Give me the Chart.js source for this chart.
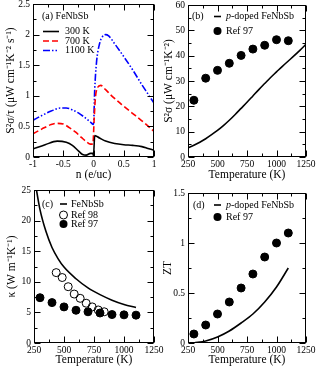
<!DOCTYPE html>
<html>
<head>
<meta charset="utf-8">
<script src="https://cdn.jsdelivr.net/npm/chart.js@4.4.0/dist/chart.umd.min.js"></script>
<style>
  body { margin: 0; background: #fff; }
  #wrap { position: relative; width: 317px; height: 369px; }
  #wrap canvas { position: absolute; left: 0; top: 0; }
</style>
</head>
<body>
<div id="wrap">
  <canvas id="chartA" width="317" height="369"></canvas>
  <canvas id="chartB" width="317" height="369"></canvas>
  <canvas id="chartC" width="317" height="369"></canvas>
  <canvas id="chartD" width="317" height="369"></canvas>
</div>
<script>
// ===========================
// DATA
// ===========================

// (a) S^2 sigma / tau vs n (e/uc)
const n300 = [-1, -0.8, -0.6, -0.45, -0.35, -0.25, -0.18, -0.12, -0.05, -0.01, 0, 0.02, 0.1, 0.2, 0.35, 0.5, 0.65, 0.8, 0.9, 1];
const pf300 = [0.13, 0.2, 0.26, 0.24, 0.19, 0.1, 0.04, 0.03, 0.06, 0.06, 0.02, 0.35, 0.31, 0.26, 0.22, 0.2, 0.19, 0.17, 0.14, 0.11];
const n700 = [-1, -0.85, -0.7, -0.6, -0.5, -0.4, -0.3, -0.2, -0.12, -0.05, -0.01, 0.01, 0.03, 0.06, 0.12, 0.2, 0.3, 0.5, 0.7, 0.85, 1];
const pf700 = [0.38, 0.46, 0.53, 0.55, 0.54, 0.48, 0.41, 0.32, 0.25, 0.21, 0.21, 0.6, 0.95, 1.12, 1.17, 1.1, 1.0, 0.83, 0.67, 0.55, 0.42];
const n1100 = [-1, -0.85, -0.7, -0.55, -0.45, -0.35, -0.25, -0.15, -0.05, 0, 0.02, 0.05, 0.1, 0.15, 0.2, 0.25, 0.35, 0.5, 0.65, 0.8, 0.9, 1];
const pf1100 = [0.6, 0.68, 0.75, 0.8, 0.8, 0.77, 0.72, 0.65, 0.57, 0.53, 1.1, 1.55, 1.85, 1.97, 2.0, 1.98, 1.85, 1.64, 1.42, 1.18, 1.03, 0.88];

// (b) S^2 sigma vs T
const tempB = [250, 300, 350, 400, 450, 500, 550, 600, 650, 700, 750, 800, 850, 900, 950, 1000, 1050, 1100, 1150, 1200, 1250];
const pfB = [3.6, 4.6, 5.8, 7.2, 8.8, 10.5, 12.4, 14.5, 16.8, 19.2, 21.6, 24.1, 26.6, 29.0, 31.4, 33.6, 35.8, 37.9, 40.0, 42.2, 44.5];
const tempRef97 = [300, 400, 500, 600, 700, 800, 900, 1000, 1100];
const pfRef97 = [22.4, 31.1, 34.2, 37.0, 40.1, 42.6, 44.1, 46.3, 45.9];

// (c) kappa vs T
const tempC = [262, 300, 350, 400, 450, 500, 600, 700, 800, 900, 1000, 1100];
const kappaC = [26.0, 21.8, 18.2, 15.6, 13.8, 12.4, 10.5, 9.0, 7.9, 7.0, 6.3, 5.8];
const tempRef98 = [435, 485, 535, 585, 635, 685, 735, 785, 835];
const kappaRef98 = [11.5, 10.7, 9.2, 8.0, 7.3, 6.5, 5.9, 5.4, 5.1];
const kappaRef97 = [7.4, 6.6, 5.9, 5.35, 5.1, 4.9, 4.65, 4.6, 4.55];

// (d) ZT vs T
const tempD = [300, 400, 500, 600, 700, 800, 900, 1000, 1100];
const ztD = [0.0, 0.02, 0.06, 0.12, 0.2, 0.29, 0.41, 0.56, 0.75];
const ztRef97 = [0.09, 0.18, 0.29, 0.41, 0.55, 0.69, 0.86, 1.0, 1.1];

const xTicksN = [-1, 1, 0.5];        // min, max, step
const xTicksT = [250, 1250, 250];

// ===========================
// HELPERS
// ===========================
const SERIF = '"Liberation Serif", "Times New Roman", serif';

function pts(xs, ys) {
  return xs.map((x, i) => ({ x: x, y: ys[i] }));
}

// frame + inward ticks on all four sides
const frameTicks = {
  id: 'frameTicks',
  afterDraw(chart, args, opts) {
    const ctx = chart.ctx;
    const a = chart.chartArea;
    const L = Math.round(a.left) + 0.5, R = Math.round(a.right) - 0.5;
    const T = Math.round(a.top) + 0.5, B = Math.round(a.bottom) - 0.5;
    ctx.save();
    ctx.strokeStyle = '#000';
    ctx.lineWidth = 1;
    ctx.strokeRect(L, T, R - L, B - T);
    ctx.beginPath();
    ['x', 'y'].forEach(id => {
      const sc = chart.scales[id];
      const step = opts[id + 'Minor'];
      const major = sc.options.ticks.stepSize;
      const count = Math.round((sc.max - sc.min) / step);
      for (let i = 0; i <= count; i++) {
        const v = sc.min + i * step;
        const isMajor = Math.abs(v / major - Math.round(v / major)) < 1e-6;
        const len = isMajor ? 6 : 3;
        const p = Math.round(sc.getPixelForValue(v)) + 0.5;
        if (id === 'x') {
          ctx.moveTo(p, B); ctx.lineTo(p, B - len);
          ctx.moveTo(p, T); ctx.lineTo(p, T + len);
        } else {
          ctx.moveTo(L, p); ctx.lineTo(L + len, p);
          ctx.moveTo(R, p); ctx.lineTo(R - len, p);
        }
      }
    });
    ctx.stroke();
    ctx.restore();
  }
};

// in-plot key, drawn from dataset styles
const keyBox = {
  id: 'keyBox',
  afterDraw(chart, args, opts) {
    const ctx = chart.ctx;
    const a = chart.chartArea;
    ctx.save();
    ctx.fillStyle = '#000';
    ctx.textBaseline = 'middle';
    ctx.font = '10px ' + SERIF;
    ctx.fillText(opts.tag, a.left + opts.tagX, a.top + opts.tagY);
    opts.rows.forEach(r => {
      const ds = chart.data.datasets[r.ds];
      const y = a.top + r.y;
      if (ds.showLine === false) {
        ctx.beginPath();
        ctx.arc(a.left + (opts.x0 + opts.x1) / 2, y, ds.pointRadius, 0, Math.PI * 2);
        ctx.lineWidth = 1;
        ctx.strokeStyle = '#000';
        if (ds.pointBackgroundColor !== '#000') {
          ctx.fillStyle = '#fff';
          ctx.fill();
          ctx.stroke();
        } else {
          ctx.fillStyle = '#000';
          ctx.fill();
        }
        ctx.fillStyle = '#000';
      } else {
        ctx.beginPath();
        ctx.setLineDash(ds.borderDash || []);
        ctx.strokeStyle = ds.borderColor;
        ctx.lineWidth = ds.borderWidth;
        ctx.moveTo(a.left + opts.x0, y);
        ctx.lineTo(a.left + opts.x1, y);
        ctx.stroke();
        ctx.setLineDash([]);
      }
      let x = a.left + opts.textX;
      if (r.italic) {
        ctx.font = 'italic 10px ' + SERIF;
        ctx.fillText(r.italic, x, y);
        x += ctx.measureText(r.italic).width;
        ctx.font = '10px ' + SERIF;
      }
      ctx.fillText(ds.label.slice(r.italic ? r.italic.length : 0), x, y);
    });
    ctx.restore();
  }
};

function noPad(s) {
  s.paddingTop = 0; s.paddingBottom = 0; s.paddingLeft = 0; s.paddingRight = 0;
}

function axis(range, title, titlePad, tickPad, extra) {
  return Object.assign({
    type: 'linear',
    min: range[0],
    max: range[1],
    grid: { display: false, drawTicks: false },
    border: { display: false },
    ticks: {
      stepSize: range[2],
      autoSkip: false,
      maxRotation: 0,
      padding: tickPad,
      color: '#000',
      font: { family: SERIF, size: 9.5 },
      callback: v => String(v)
    },
    title: { display: true, text: title, color: '#000', padding: titlePad, font: { family: SERIF, size: 11.5 } }
  }, extra);
}

function makeChart(id, datasets, cfg) {
  new Chart(document.getElementById(id), {
    type: 'scatter',
    data: { datasets: datasets },
    options: {
      responsive: false,
      animation: false,
      devicePixelRatio: 1,
      layout: { padding: cfg.pad },
      plugins: {
        legend: { display: false },
        tooltip: { enabled: false },
        frameTicks: cfg.minor,
        keyBox: cfg.key
      },
      scales: {
        x: axis(cfg.x, cfg.xTitle, { top: 0, bottom: cfg.xtp }, 2, {
          afterFit: s => { s.height = cfg.xh; noPad(s); }
        }),
        y: axis(cfg.y, cfg.yTitle, { top: 0, bottom: 0 }, 3, {
          afterFit: s => { s.width = cfg.yw; noPad(s); }
        })
      }
    },
    plugins: [frameTicks, keyBox]
  });
}

function curve(label, xs, ys, color, dash) {
  return {
    label: label, data: pts(xs, ys), showLine: true,
    borderColor: color, borderWidth: 1.6, borderDash: dash,
    pointRadius: 0, cubicInterpolationMode: 'monotone'
  };
}

function dots(label, xs, ys, filled) {
  return {
    label: label, data: pts(xs, ys), showLine: false,
    pointRadius: 4, pointBorderWidth: 1,
    pointBorderColor: '#000',
    pointBackgroundColor: filled ? '#000' : 'rgba(255,255,255,0)'
  };
}

// ===========================
// PANELS
// ===========================
makeChart('chartA', [
  curve('300 K', n300, pf300, '#000', []),
  curve('700 K', n700, pf700, '#ff0000', [6, 3]),
  curve('1100 K', n1100, pf1100, '#0000ff', [7, 2, 1.5, 2, 1.5, 2])
], {
  pad: { left: 4, top: 4, right: 163, bottom: 181 },
  yw: 29, xh: 31, xtp: 6,
  x: xTicksN, y: [0, 2.5, 0.5],
  xTitle: 'n (e/uc)', yTitle: 'S\u00b2\u03c3/\u03c4 (\u03bcW cm\u207b\u00b9K\u207b\u00b2 s\u207b\u00b9)',
  minor: { xMinor: 0.25, yMinor: 0.25 },
  key: { tag: '(a) FeNbSb', tagX: 9, tagY: 12.5, x0: 10, x1: 26, textX: 32,
         rows: [{ ds: 0, y: 27.5 }, { ds: 1, y: 37 }, { ds: 2, y: 46.5 }] }
});

makeChart('chartB', [
  curve('p-doped FeNbSb', tempB, pfB, '#000', []),
  dots('Ref 97', tempRef97, pfRef97, true)
], {
  pad: { left: 162, top: 4, right: 11, bottom: 181 },
  yw: 26, xh: 31, xtp: 6,
  x: xTicksT, y: [0, 60, 10],
  xTitle: 'Temperature (K)', yTitle: 'S\u00b2\u03c3 (\u03bcW cm\u207b\u00b9K\u207b\u00b2)',
  minor: { xMinor: 125, yMinor: 5 },
  key: { tag: '(b)', tagX: 4, tagY: 11.5, x0: 26, x1: 33, textX: 38,
         rows: [{ ds: 0, y: 11.5, italic: 'p' }, { ds: 1, y: 26 }] }
});

makeChart('chartC', [
  curve('FeNbSb', tempC, kappaC, '#000', []),
  dots('Ref 98', tempRef98, kappaRef98, false),
  dots('Ref 97', tempRef97, kappaRef97, true)
], {
  pad: { left: 5, top: 190, right: 163, bottom: 0 },
  yw: 29, xh: 26, xtp: 2,
  x: xTicksT, y: [0, 25, 5],
  xTitle: 'Temperature (K)', yTitle: '\u03ba (W m\u207b\u00b9K\u207b\u00b9)',
  minor: { xMinor: 125, yMinor: 2.5 },
  key: { tag: '(c)', tagX: 8, tagY: 14, x0: 26, x1: 33, textX: 37,
         rows: [{ ds: 0, y: 14 }, { ds: 1, y: 25 }, { ds: 2, y: 34 }] }
});

makeChart('chartD', [
  curve('p-doped FeNbSb', tempD, ztD, '#000', []),
  dots('Ref 97', tempRef97, ztRef97, true)
], {
  pad: { left: 161, top: 193, right: 11, bottom: 0 },
  yw: 27, xh: 26, xtp: 2,
  x: xTicksT, y: [0, 1.5, 0.5],
  xTitle: 'Temperature (K)', yTitle: 'ZT',
  minor: { xMinor: 125, yMinor: 0.25 },
  key: { tag: '(d)', tagX: 5, tagY: 12, x0: 26, x1: 33, textX: 38,
         rows: [{ ds: 0, y: 12, italic: 'p' }, { ds: 1, y: 24 }] }
});
</script>
</body>
</html>
